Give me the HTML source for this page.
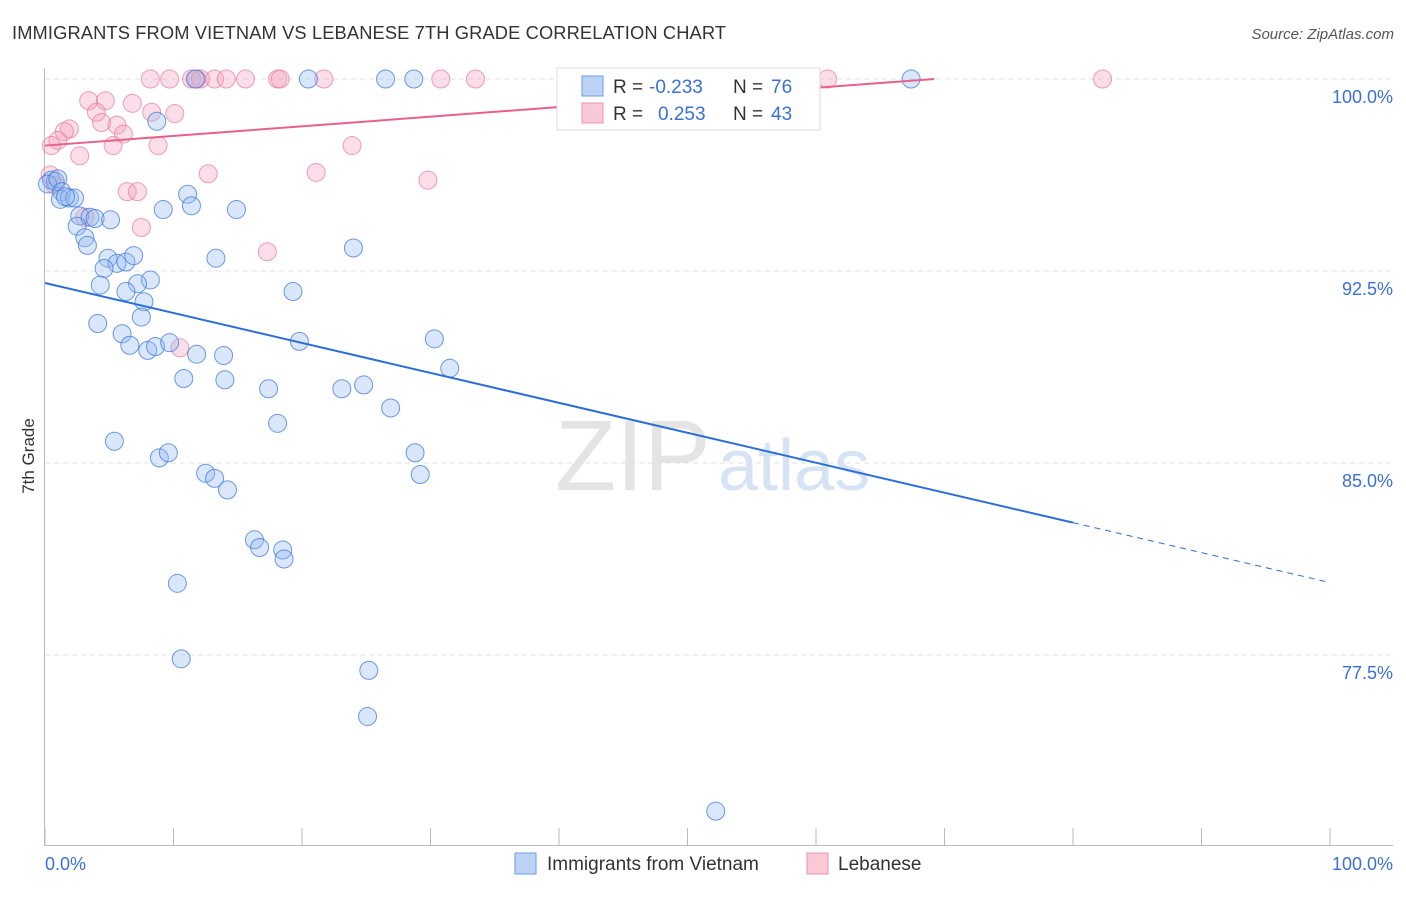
<!DOCTYPE html>
<html><head><meta charset="utf-8"><style>
body{margin:0;background:#fff;font-family:"Liberation Sans",sans-serif}
svg text{font-family:"Liberation Sans",sans-serif}
</style></head><body>
<svg id="c" width="1406" height="892">
<text x="12" y="39" font-size="18.3" fill="#333" textLength="714">IMMIGRANTS FROM VIETNAM VS LEBANESE 7TH GRADE CORRELATION CHART</text>
<text x="1394" y="39" font-size="15" fill="#555" font-style="italic" text-anchor="end">Source: ZipAtlas.com</text>
<text x="34" y="456" font-size="17" fill="#333" text-anchor="middle" transform="rotate(-90 34 456)">7th Grade</text>
<text x="555" y="490" font-size="100" fill="#e4e4e4" font-family="Liberation Serif">ZIP</text>
<text x="718" y="490" font-size="72" fill="#d6e3f5">atlas</text>
<g id="grid"></g><g id="pts"></g><g id="lines"></g>
<g>
<rect x="557" y="68" width="263" height="62" fill="#fff" stroke="#ddd"/>
<rect x="582" y="76" width="21" height="20" fill="#bcd3f5" stroke="#6d9be6"/>
<rect x="582" y="103" width="21" height="20" fill="#f9c9d6" stroke="#ee93ae"/>
<text x="613" y="93" font-size="19" fill="#333">R =</text>
<text x="649" y="93" font-size="19" fill="#3a70d6">-0.233</text>
<text x="733" y="93" font-size="19" fill="#333">N =</text>
<text x="771" y="93" font-size="19" fill="#3a70d6">76</text>
<text x="613" y="120" font-size="19" fill="#333">R =</text>
<text x="658" y="120" font-size="19" fill="#3a70d6">0.253</text>
<text x="733" y="120" font-size="19" fill="#333">N =</text>
<text x="771" y="120" font-size="19" fill="#3a70d6">43</text>
</g>
<g>
<rect x="515" y="853" width="21" height="21" fill="#bcd3f5" stroke="#6d9be6"/>
<text x="547" y="870" font-size="19" fill="#333">Immigrants from Vietnam</text>
<rect x="807" y="853" width="21" height="21" fill="#f9c9d6" stroke="#ee93ae"/>
<text x="838" y="870" font-size="19" fill="#333">Lebanese</text>
</g>
</svg>
<script>
const yTicks=[100,92.5,85,77.5];
const xTickLabels=["0.0%","100.0%"];
const blueX=[0.5,0.8,0.2,1.0,1.3,1.2,1.9,2.3,1.6,2.7,3.5,3.9,5.1,2.5,3.1,3.3,4.9,5.6,6.3,6.9,4.6,8.2,7.2,4.3,6.3,7.7,7.5,4.1,6.0,6.6,8.0,8.6,9.7,11.8,13.9,10.8,14.0,8.7,9.2,11.1,11.4,14.9,13.3,19.3,24.0,19.8,17.4,23.1,24.8,30.3,31.5,26.9,18.1,5.4,8.9,9.6,12.5,13.2,14.2,16.3,16.7,18.5,18.6,10.3,10.6,25.2,25.1,28.8,29.2,52.2,11.7,20.5,26.5,28.7,67.4,43.2];
const blueY=[96.05,96.0,95.9,96.1,95.6,95.3,95.35,95.35,95.4,94.65,94.6,94.55,94.5,94.25,93.8,93.5,93.0,92.8,92.85,93.1,92.6,92.15,92.0,91.95,91.7,91.3,90.7,90.45,90.05,89.6,89.4,89.55,89.7,89.25,89.2,88.3,88.25,98.35,94.9,95.5,95.05,94.9,93.0,91.7,93.4,89.75,87.9,87.9,88.05,89.85,88.7,87.15,86.55,85.85,85.2,85.4,84.6,84.4,83.95,82.0,81.7,81.6,81.25,80.3,77.35,76.9,75.1,85.4,84.55,71.4,100,100,100,100,100,100];
const pinkX=[8.2,9.7,11.4,12.1,13.2,14.1,15.6,18.1,18.3,21.7,30.8,33.5,60.9,82.3,11.8,3.4,4.7,6.8,4.0,8.3,10.1,5.6,4.4,6.1,1.9,1.5,1.0,0.5,5.3,8.8,23.9,2.7,12.7,21.1,29.8,6.4,7.2,3.1,7.5,17.3,10.5,0.4,0.8];
const pinkY=[100,100,100,100,100,100,100,100,100,100,100,100,100,100,100,99.15,99.15,99.05,98.7,98.7,98.65,98.2,98.3,97.85,98.05,97.95,97.6,97.4,97.4,97.4,97.4,97.0,96.3,96.35,96.05,95.6,95.6,94.6,94.2,93.25,89.5,96.25,95.85];
const blueTrend=[92.03,-0.117];
const pinkTrend=[97.4,0.0376];
const X0=45,X1=1330,Y100=79,PXPER=25.6;
const sx=v=>X0+(X1-X0)*v/100;
const sy=v=>Y100+(100-v)*PXPER;
const NS="http://www.w3.org/2000/svg";
function mk(t,a,p){const e=document.createElementNS(NS,t);for(const k in a)e.setAttribute(k,a[k]);p.appendChild(e);return e;}
const grid=document.getElementById('grid');
yTicks.forEach(v=>{
 const l=mk('line',{x1:45,x2:1393,y1:sy(v),y2:sy(v),stroke:'#e2e2e2','stroke-dasharray':'5,4'},grid);
 
 
 const t=mk('text',{x:1393,y:sy(v)+24,'font-size':18,fill:'#3a70d6','text-anchor':'end'},grid);
 t.textContent=v.toFixed(1)+'%';
 
 
});
const ax=mk('line',{x1:44.5,x2:44.5,y1:68,y2:845,stroke:'#bbb'},grid);


const bx=mk('line',{x1:44,x2:1393,y1:845.5,y2:845.5,stroke:'#bbb'},grid);


for(let i=0;i<=10;i++){const tk=mk('line',{x1:sx(i*10),x2:sx(i*10),y1:828,y2:845,stroke:'#bbb'},grid);
 
 }
[[0,'start',45],[1,'end',1393]].forEach(([i,a,x])=>{const t=mk('text',{x:x,y:870,'font-size':18,fill:'#3a70d6','text-anchor':a},grid);t.textContent=xTickLabels[i];
 
 });
const pts=document.getElementById('pts');
pinkX.forEach((x,i)=>{const c=mk('circle',{cx:sx(x),cy:sy(pinkY[i]),r:9,fill:'rgba(244,160,185,0.35)',stroke:'rgba(232,120,155,0.7)','stroke-width':1},pts);
 
 });
blueX.forEach((x,i)=>{const c=mk('circle',{cx:sx(x),cy:sy(blueY[i]),r:9,fill:'rgba(150,185,240,0.35)',stroke:'rgba(60,120,220,0.75)','stroke-width':1},pts);
 
 });
const lines=document.getElementById('lines');
const bl=mk('line',{x1:sx(0),y1:sy(blueTrend[0]),x2:sx(80),y2:sy(blueTrend[0]+blueTrend[1]*80),stroke:'#2a6fd8','stroke-width':2},lines);


const bd=mk('line',{x1:sx(80),y1:sy(blueTrend[0]+blueTrend[1]*80),x2:sx(100),y2:sy(blueTrend[0]+blueTrend[1]*100),stroke:'#2a6fd8','stroke-width':1,'stroke-dasharray':'6,5'},lines);


const pl=mk('line',{x1:sx(0),y1:sy(pinkTrend[0]),x2:sx(69.2),y2:sy(pinkTrend[0]+pinkTrend[1]*69.2),stroke:'#e8618c','stroke-width':2},lines);


</script>
</body></html>
